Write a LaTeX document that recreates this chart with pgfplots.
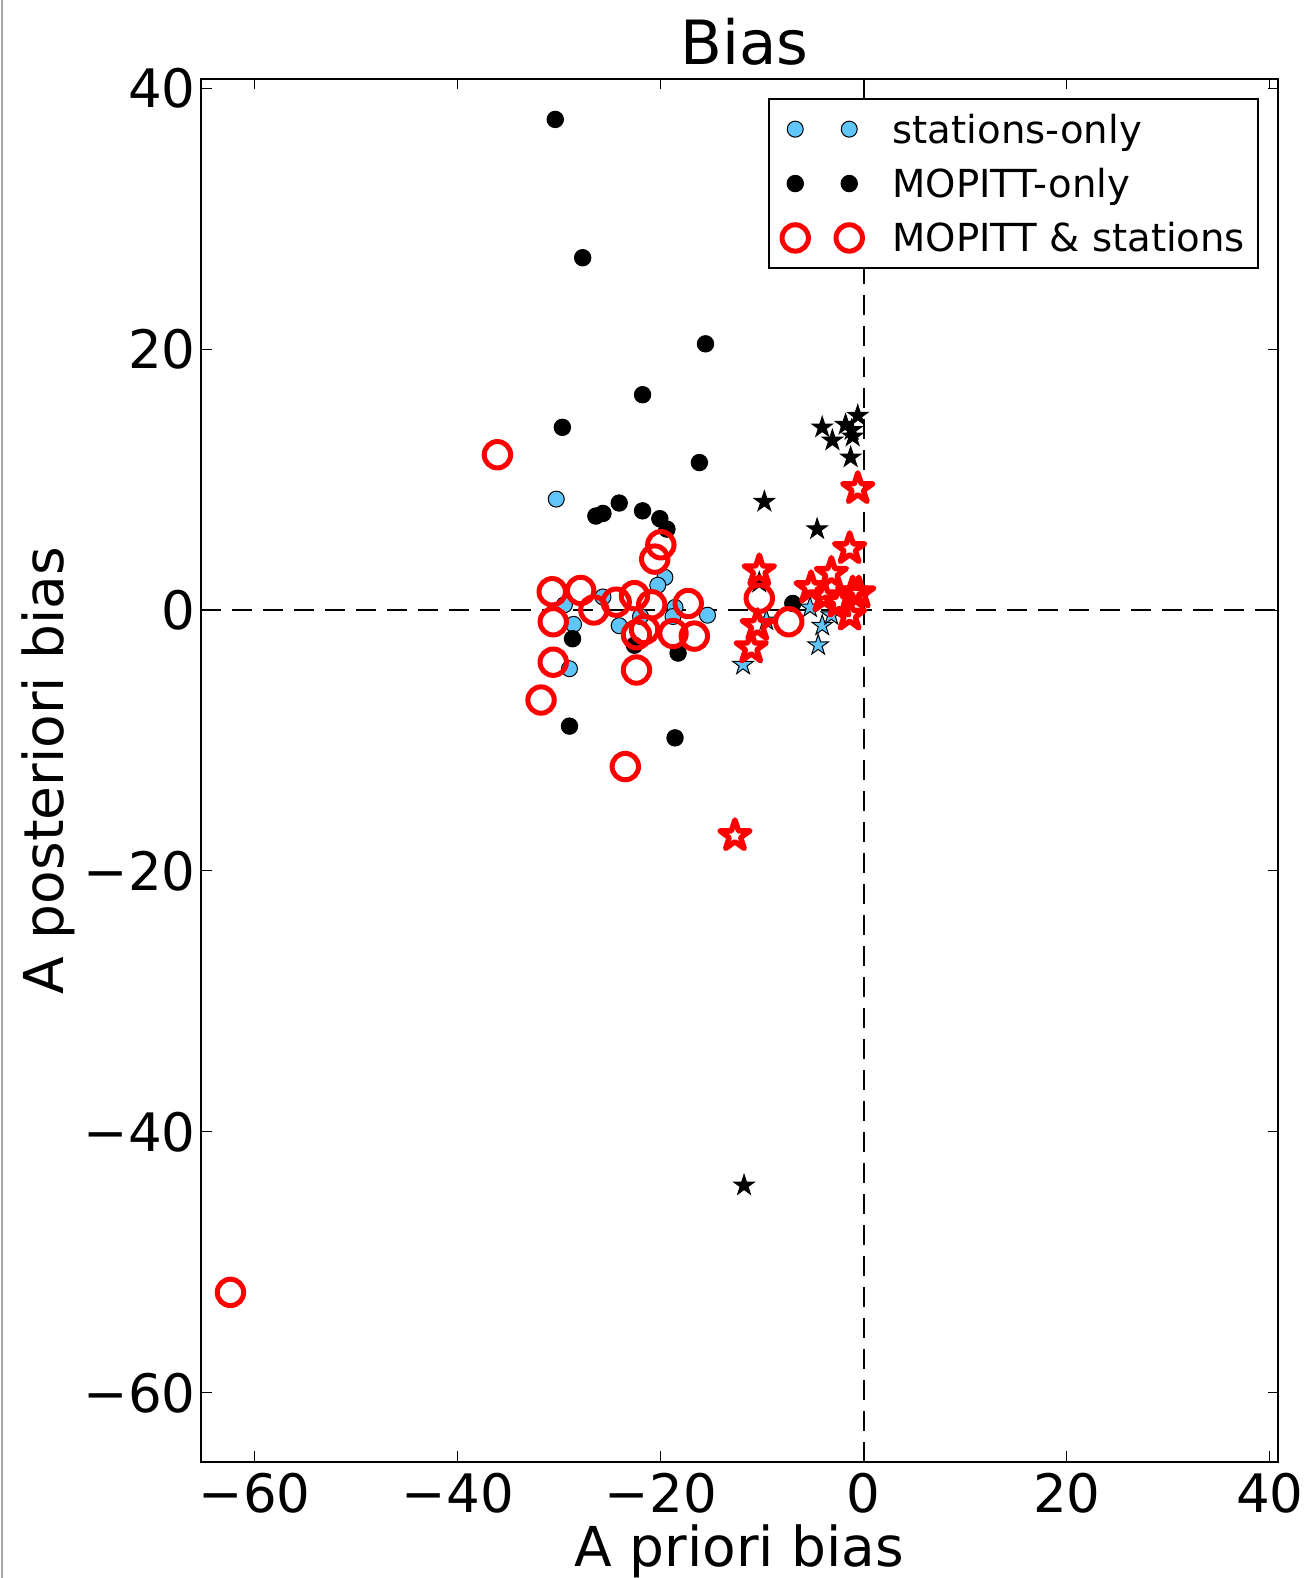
\documentclass[border=0pt]{standalone}
\usepackage{pgfplots}
\pgfplotsset{compat=1.18}
\usepackage{fontspec}
\setmainfont{DejaVu Sans}
\definecolor{stblue}{RGB}{96,198,250}
\pgfdeclareplotmark{fstar}{%
  \pgfpathmoveto{\pgfpointpolar{90}{\pgfplotmarksize}}%
  \pgfpathlineto{\pgfpointpolar{126}{0.382\pgfplotmarksize}}%
  \pgfpathlineto{\pgfpointpolar{162}{\pgfplotmarksize}}%
  \pgfpathlineto{\pgfpointpolar{198}{0.382\pgfplotmarksize}}%
  \pgfpathlineto{\pgfpointpolar{234}{\pgfplotmarksize}}%
  \pgfpathlineto{\pgfpointpolar{270}{0.382\pgfplotmarksize}}%
  \pgfpathlineto{\pgfpointpolar{306}{\pgfplotmarksize}}%
  \pgfpathlineto{\pgfpointpolar{342}{0.382\pgfplotmarksize}}%
  \pgfpathlineto{\pgfpointpolar{18}{\pgfplotmarksize}}%
  \pgfpathlineto{\pgfpointpolar{54}{0.382\pgfplotmarksize}}%
  \pgfpathclose
  \pgfusepathqfillstroke
}
\pgfdeclareplotmark{ostar}{%
  \pgfpathmoveto{\pgfpointpolar{90}{\pgfplotmarksize}}%
  \pgfpathlineto{\pgfpointpolar{126}{0.382\pgfplotmarksize}}%
  \pgfpathlineto{\pgfpointpolar{162}{\pgfplotmarksize}}%
  \pgfpathlineto{\pgfpointpolar{198}{0.382\pgfplotmarksize}}%
  \pgfpathlineto{\pgfpointpolar{234}{\pgfplotmarksize}}%
  \pgfpathlineto{\pgfpointpolar{270}{0.382\pgfplotmarksize}}%
  \pgfpathlineto{\pgfpointpolar{306}{\pgfplotmarksize}}%
  \pgfpathlineto{\pgfpointpolar{342}{0.382\pgfplotmarksize}}%
  \pgfpathlineto{\pgfpointpolar{18}{\pgfplotmarksize}}%
  \pgfpathlineto{\pgfpointpolar{54}{0.382\pgfplotmarksize}}%
  \pgfpathclose
  \pgfusepathqstroke
}
\pgfplotsset{twomarks/.style={legend image code/.code={\draw[mark repeat=2,mark phase=1,##1] plot coordinates {(0pt,0pt) (13.5pt,0pt) (27pt,0pt)};}}}
\begin{document}
\begin{tikzpicture}
\useasboundingbox (0,0) rectangle (656pt,789pt);
\draw[gray!70, line width=1pt] (1pt,0) -- (1pt,789pt);
\begin{axis}[
  at={(100.5pt,58pt)}, anchor=south west,
  scale only axis, width=538.5pt, height=691.5pt,
  xmin=-65.3, xmax=40.8, ymin=-65.3, ymax=40.7,
  xtick={-60,-40,-20,0,20,40}, xticklabels={−60,−40,−20,0,20,40},
  ytick={-60,-40,-20,0,20,40}, yticklabels={−60,−40,−20,0,20,40},
  tick align=inside, major tick length=5.25pt,
  tick style={black, line width=0.5pt},
  axis line style={line width=1pt},
  minor tick num=0,
  tick label style={font=\fontsize{26.5}{32}\selectfont},
  xticklabel style={anchor=north, inner sep=0pt, text height=19.3pt, text depth=0pt, yshift=-5.5pt},
  yticklabel style={anchor=east, inner sep=0pt, text height=19.3pt, text depth=0pt, xshift=-2.5pt},
  every axis title shift=0pt,
  title={Bias},
  title style={font=\fontsize{30.5}{36}\selectfont, at={(axis description cs:0.5046,1.01012)}, anchor=base, inner sep=0pt},
  xlabel={A priori bias},
  xlabel style={font=\fontsize{27.5}{33}\selectfont, at={(axis description cs:0.5,-0.07592)}, anchor=base, inner sep=0pt},
  ylabel={A posteriori bias},
  ylabel style={font=\fontsize{27.5}{33}\selectfont, at={(axis description cs:-0.12813,0.5)}, anchor=base, inner sep=0pt},
  legend style={
    at={(0.9824,0.986)}, anchor=north east,
    draw=black, line width=1pt, fill=white,
    font=\fontsize{19.3}{23}\selectfont,
    inner xsep=6.5pt, inner ysep=1.3pt,
    nodes={inner sep=0pt, text height=20.6pt, text depth=6.6pt},
    /tikz/column 1/.style={column sep=15.1pt},
    row sep=0pt,
  },
  legend cell align=left,
]
\addplot[black, line width=1.2pt, dash pattern=on 10pt off 5.5pt, forget plot] coordinates {(-65.3,0) (40.8,0)};
\addplot[black, line width=1.2pt, dash pattern=on 10pt off 5.5pt, forget plot] coordinates {(0,-65.3) (0,40.7)};

% stations-only (circles)
\addplot[only marks, twomarks, mark=*, mark size=4pt, line width=0.5pt, mark options={draw=black, fill=stblue, line width=0.5pt}] coordinates {
(-30.3,8.5) (-19.6,2.5) (-20.3,1.9) (-28.6,-1.1) (-29.0,-4.5) (-29.5,0.4)
(-25.7,1.0) (-24.1,-1.2) (-15.4,-0.4) (-18.6,0.2) (-18.8,-0.5) (-22.0,-0.5)
};
\addlegendentry{stations-only}
% MOPITT-only (circles)
\addplot[only marks, twomarks, mark=*, mark size=4.1pt, line width=0.5pt, mark options={draw=black, fill=black, line width=0.5pt}] coordinates {
(-30.4,37.6) (-27.7,27.0) (-15.6,20.4) (-21.8,16.5) (-29.7,14.0) (-16.2,11.3)
(-26.4,7.2) (-25.7,7.4) (-24.1,8.2) (-21.8,7.6) (-20.1,7.0) (-19.4,6.2)
(-28.7,-2.2) (-29.0,-8.9) (-18.6,-9.8) (-18.3,-3.3) (-7.0,0.5) (-22.6,-2.7)
};
\addlegendentry{MOPITT-only}
% stations-only (stars)
\addplot[only marks, forget plot, mark=fstar, mark size=5.4pt, mark options={draw=black, fill=stblue, line width=0.5pt}] coordinates {
(-11.9,-4.2) (-4.5,-2.7) (-4.1,-1.2) (-5.3,0.2) (-3.2,-0.4) (-9.6,-0.8)
};
% MOPITT-only (stars)
\addplot[only marks, forget plot, mark=fstar, mark size=5.4pt, mark options={draw=black, fill=black, line width=0.5pt}] coordinates {
(-0.6,14.9) (-4.1,14.0) (-1.8,14.2) (-3.1,13.0) (-1.1,13.3) (-1.2,13.8)
(-1.3,11.7) (-9.8,8.3) (-4.6,6.2) (-10.3,2.1) (-11.8,-44.1)
};
% MOPITT & stations (circles)
\addplot[only marks, twomarks, mark=o, mark size=6.6pt, line width=2.5pt, mark options={draw=red, line width=2.5pt}] coordinates {
(-36.1,11.9) (-62.4,-52.3) (-23.5,-12.0) (-31.8,-6.9) (-30.6,-4.0) (-30.7,1.4)
(-30.6,-0.9) (-27.9,1.5) (-26.6,0.0) (-24.4,0.6) (-22.6,1.1) (-20.9,0.4)
(-22.4,-1.9) (-21.6,-1.5) (-22.4,-4.6) (-18.8,-1.8) (-16.7,-2.0) (-17.3,0.5)
(-20.0,5.0) (-20.6,3.9) (-10.3,0.9) (-7.4,-0.9)
};
\addlegendentry{MOPITT \& stations}
% MOPITT & stations (stars)
\addplot[only marks, forget plot, mark=ostar, mark size=7.9pt, mark options={draw=red, line width=2.7pt, line join=round}] coordinates {
(-0.6,9.3) (-12.7,-17.3) (-10.3,3.0) (-10.5,-1.2) (-11.1,-2.9) (-1.4,4.7)
(-3.2,2.8) (-5.2,1.7) (-3.9,1.0) (-1.1,1.3) (-0.5,1.3) (-1.4,-0.4) (-2.4,0.6)
};
\end{axis}
\end{tikzpicture}
\end{document}
